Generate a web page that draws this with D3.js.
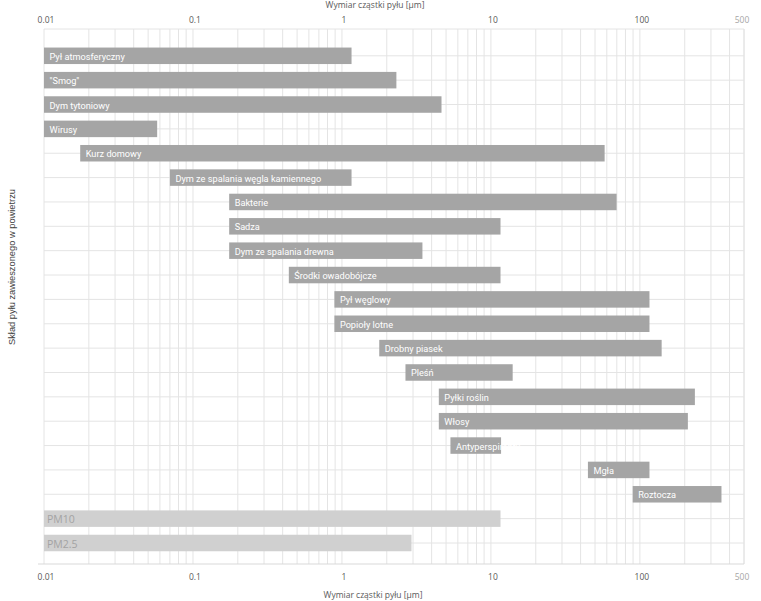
<!DOCTYPE html>
<html><head><meta charset="utf-8">
<script src="https://cdn.jsdelivr.net/npm/d3@7"></script>
<style>body{margin:0;background:#fff}</style>
</head><body>
<script>
const categories = ["Pył atmosferyczny","\"Smog\"","Dym tytoniowy","Wirusy","Kurz domowy","Dym ze spalania węgla kamiennego","Bakterie","Sadza","Dym ze spalania drewna","Środki owadobójcze","Pył węglowy","Popioły lotne","Drobny piasek","Pleśń","Pyłki roślin","Włosy","Antyperspiranty","Mgła","Roztocza","PM10","PM2.5"];
const minSize = [0.01,0.01,0.01,0.01,0.0175,0.07,0.175,0.175,0.175,0.44,0.89,0.89,1.78,2.67,4.47,4.47,5.35,44.8,89.5,0.01,0.01];
const maxSize = [1.16,2.32,4.66,0.0575,58,1.16,69.8,11.6,3.47,11.6,116,116,140,14.0,234,210,11.7,116,353,11.6,2.93];
const pmRows = ["PM10","PM2.5"];
const tickValues = [0.01,0.1,1,10,100,500];
const tickLabels = ["0.01","0.1","1","10","100","500"];
const axisTitle = "Wymiar cząstki pyłu [µm]";
const yTitle = "Skład pyłu zawieszonego w powietrzu";

(function(){
const W=761,H=601;
const pL=44,pR=744,pT=29,pB=564;
const svg=d3.select("body").append("svg").attr("width",W).attr("height",H);
const x=d3.scaleLog().domain([0.01,500]).range([pL,pR]);
const y=d3.scalePoint().domain(categories).range([55.8,543]);
const gridC="#e4e4e4";

const gridVals=[];
for(let d=0.01; d<500; d*=10){ for(let k=1;k<10;k++){const v=+(d*k).toPrecision(3); if(v<=500) gridVals.push(v);} }
gridVals.push(500);
const g=svg.append("g");
g.selectAll("line.v").data(gridVals).join("line")
 .attr("x1",d=>x(d)).attr("x2",d=>x(d)).attr("y1",pT).attr("y2",pB)
 .attr("stroke",gridC).attr("stroke-width",1);
g.selectAll("line.h").data(categories).join("line")
 .attr("x1",pL).attr("x2",pR).attr("y1",d=>y(d)).attr("y2",d=>y(d))
 .attr("stroke",gridC).attr("stroke-width",1);
g.append("line").attr("x1",pL).attr("x2",pR).attr("y1",pT).attr("y2",pT).attr("stroke",gridC);
g.append("line").attr("x1",pL-6).attr("x2",pR).attr("y1",pB).attr("y2",pB).attr("stroke","#d9d9d9");

const bh=16.5;
const rows=categories.map((c,i)=>({c,lo:minSize[i],hi:maxSize[i],pm:pmRows.includes(c)}));
svg.selectAll("rect.bar").data(rows).join("rect")
 .attr("x",d=>x(d.lo)).attr("width",d=>x(d.hi)-x(d.lo))
 .attr("y",d=>y(d.c)-bh/2).attr("height",bh)
 .attr("fill",d=>d.pm?"#d0d0d0":"#a5a5a5");
svg.selectAll("text.lab").data(rows).join("text")
 .attr("x",d=>x(d.lo)+(d.pm?3:5.5)).attr("y",d=>y(d.c)+0.5)
 .attr("dominant-baseline","central")
 .attr("font-family",d=>d.pm?"Open Sans, sans-serif":"Roboto, sans-serif")
 .attr("font-size",d=>d.pm?"10.5px":"9.2px")
 .attr("fill",d=>d.pm?"#a3a3a3":"#ffffff")
 .text(d=>d.c);

function ticks(yy){
  svg.append("g").selectAll("text").data(tickValues).join("text")
   .attr("x",(d,i)=>x(d)+(i===5?-2:2)).attr("y",yy)
   .attr("text-anchor","middle").attr("dominant-baseline","central")
   .attr("font-family","Open Sans, sans-serif").attr("font-size","8.5px")
   .attr("fill",(d,i)=>i===5?"#a6a6a6":"#595959")
   .text((d,i)=>tickLabels[i]);
}
ticks(19); ticks(576);
svg.append("text").attr("x",375).attr("y",4).attr("text-anchor","middle").attr("dominant-baseline","central")
 .attr("font-family","Open Sans, sans-serif").attr("font-size","8.5px").attr("fill","#595959").text(axisTitle);
svg.append("text").attr("x",373).attr("y",594).attr("text-anchor","middle").attr("dominant-baseline","central")
 .attr("font-family","Open Sans, sans-serif").attr("font-size","8.5px").attr("fill","#595959").text(axisTitle);
svg.append("text").attr("transform","translate(12,267) rotate(-90)")
 .attr("text-anchor","middle").attr("dominant-baseline","central")
 .attr("font-family","Liberation Sans, Arial, sans-serif").attr("font-size","9.3px").attr("fill","#404040").text(yTitle);
})();
</script>
</body></html>
